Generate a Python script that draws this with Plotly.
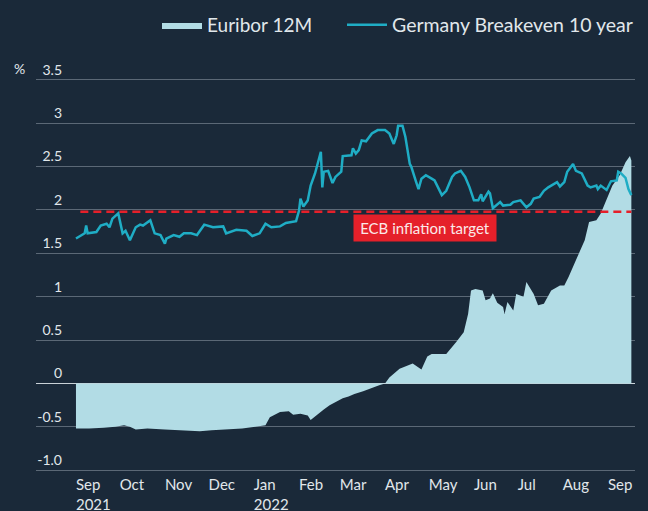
import plotly.graph_objects as go

# ---------------- data ----------------
be_dates = [
    "2021-09-01", "2021-09-07", "2021-09-08", "2021-09-09", "2021-09-15", "2021-09-18",
    "2021-09-22", "2021-09-24", "2021-09-26", "2021-09-30", "2021-10-03", "2021-10-05",
    "2021-10-08", "2021-10-12", "2021-10-15", "2021-10-17", "2021-10-22", "2021-10-25",
    "2021-10-29", "2021-11-01", "2021-11-02", "2021-11-07", "2021-11-11", "2021-11-14",
    "2021-11-19", "2021-11-23", "2021-11-28", "2021-12-04", "2021-12-11", "2021-12-13",
    "2021-12-20", "2021-12-27", "2021-12-31", "2022-01-05", "2022-01-09", "2022-01-13",
    "2022-01-19", "2022-01-23", "2022-01-30", "2022-02-01", "2022-02-02", "2022-02-04",
    "2022-02-07", "2022-02-09", "2022-02-12", "2022-02-16", "2022-02-17", "2022-02-18",
    "2022-02-21", "2022-02-24", "2022-02-26", "2022-03-02", "2022-03-03", "2022-03-09",
    "2022-03-10", "2022-03-12", "2022-03-14", "2022-03-15", "2022-03-16", "2022-03-19",
    "2022-03-23", "2022-03-27", "2022-04-01", "2022-04-04", "2022-04-07", "2022-04-09",
    "2022-04-10", "2022-04-13", "2022-04-15", "2022-04-18", "2022-04-19", "2022-04-22",
    "2022-04-24", "2022-04-26", "2022-04-29", "2022-05-03", "2022-05-05", "2022-05-10",
    "2022-05-13", "2022-05-17", "2022-05-19", "2022-05-23", "2022-05-26", "2022-05-29",
    "2022-06-01", "2022-06-04", "2022-06-06", "2022-06-07", "2022-06-11", "2022-06-12",
    "2022-06-14", "2022-06-19", "2022-06-21", "2022-06-26", "2022-06-28", "2022-07-03",
    "2022-07-07", "2022-07-10", "2022-07-12", "2022-07-16", "2022-07-19", "2022-07-22",
    "2022-07-25", "2022-07-28", "2022-07-30", "2022-08-02", "2022-08-04", "2022-08-08",
    "2022-08-10", "2022-08-14", "2022-08-18", "2022-08-20", "2022-08-24", "2022-08-25",
    "2022-08-27", "2022-08-31", "2022-09-03", "2022-09-07", "2022-09-08", "2022-09-10",
    "2022-09-13", "2022-09-15", "2022-09-17",
]
be_values = [
    1.67, 1.73, 1.82, 1.73, 1.745, 1.82,
    1.84, 1.80, 1.90, 1.96, 1.73, 1.76,
    1.65, 1.80, 1.83, 1.82, 1.88, 1.73,
    1.71, 1.61, 1.67, 1.71, 1.69, 1.73,
    1.73, 1.71, 1.83, 1.80, 1.81, 1.73,
    1.77, 1.76, 1.70, 1.73, 1.84, 1.80,
    1.81, 1.85, 1.87, 1.99, 2.13, 2.04,
    2.11, 2.28, 2.42, 2.67, 2.26, 2.44,
    2.45, 2.31, 2.38, 2.44, 2.62, 2.63,
    2.71, 2.65, 2.69, 2.74, 2.80, 2.79,
    2.88, 2.92, 2.92, 2.88, 2.76, 2.86,
    2.97, 2.97, 2.84, 2.53, 2.50, 2.34,
    2.24, 2.36, 2.40, 2.36, 2.34, 2.17,
    2.22, 2.38, 2.42, 2.45, 2.38, 2.26,
    2.11, 2.11, 2.18, 2.10, 2.21, 2.19,
    2.02, 2.09, 2.05, 2.06, 2.09, 2.11,
    2.03, 2.07, 2.13, 2.15, 2.22, 2.26,
    2.29, 2.32, 2.27, 2.32, 2.44, 2.53,
    2.45, 2.42, 2.28, 2.26, 2.28, 2.24,
    2.28, 2.23, 2.33, 2.34, 2.44, 2.42,
    2.37, 2.24, 2.17,
]

eu_dates = [
    "2021-09-01", "2021-09-10", "2021-09-20", "2021-09-28", "2021-10-04", "2021-10-08",
    "2021-10-12", "2021-10-20", "2021-11-01", "2021-11-12", "2021-11-25", "2021-12-03",
    "2021-12-14", "2021-12-24", "2022-01-02", "2022-01-09", "2022-01-12", "2022-01-16",
    "2022-01-19", "2022-01-25", "2022-01-28", "2022-02-02", "2022-02-07", "2022-02-09",
    "2022-02-14", "2022-02-18", "2022-02-22", "2022-02-28", "2022-03-03", "2022-03-07",
    "2022-03-11", "2022-03-17", "2022-03-23", "2022-03-28", "2022-04-01", "2022-04-04",
    "2022-04-11", "2022-04-20", "2022-04-26", "2022-04-30", "2022-05-03", "2022-05-13",
    "2022-05-20", "2022-05-25", "2022-05-28", "2022-05-30", "2022-06-02", "2022-06-07",
    "2022-06-09", "2022-06-12", "2022-06-14", "2022-06-17", "2022-06-21", "2022-06-22",
    "2022-06-24", "2022-06-28", "2022-06-30", "2022-07-05", "2022-07-07", "2022-07-12",
    "2022-07-15", "2022-07-19", "2022-07-24", "2022-07-30", "2022-08-02", "2022-08-05",
    "2022-08-11", "2022-08-16", "2022-08-19", "2022-08-24", "2022-08-27", "2022-08-31",
    "2022-09-04", "2022-09-09", "2022-09-13", "2022-09-16", "2022-09-17",
]
eu_values = [
    -0.52, -0.52, -0.51, -0.50, -0.48, -0.50,
    -0.53, -0.52, -0.53, -0.54, -0.55, -0.54,
    -0.53, -0.52, -0.50, -0.48, -0.39, -0.36,
    -0.33, -0.32, -0.36, -0.35, -0.37, -0.42,
    -0.35, -0.30, -0.25, -0.20, -0.17, -0.15,
    -0.12, -0.09, -0.05, -0.02, 0.0, 0.07,
    0.17, 0.23, 0.16, 0.31, 0.34, 0.34,
    0.48, 0.59, 0.80, 1.07, 1.09, 1.07,
    0.96, 0.98, 1.04, 0.93, 0.88, 0.80,
    0.94, 0.84, 1.03, 1.00, 1.17, 1.03,
    0.90, 0.92, 1.07, 1.13, 1.13, 1.23,
    1.46, 1.65, 1.86, 1.88, 1.96, 2.11,
    2.28, 2.40, 2.55, 2.62, 2.57,
]

ecb_target = 1.98
ecb_dates = ["2021-09-04", "2022-09-17"]

y_tickvals = [3.5, 3, 2.5, 2, 1.5, 1, 0.5, 0, -0.5, -1.0]
y_ticktext = ["3.5", "3", "2.5", "2", "1.5", "1", "0.5", "0", "-0.5", "-1.0"]

x_tickvals = ["2021-09-01", "2021-10-01", "2021-11-01", "2021-12-01", "2022-01-01",
              "2022-02-01", "2022-03-01", "2022-04-01", "2022-05-01", "2022-06-01",
              "2022-07-01", "2022-08-01", "2022-09-01"]
x_ticktext = ["Sep<br>2021", "Oct", "Nov", "Dec", "Jan<br>2022", "Feb", "Mar", "Apr",
              "May", "Jun", "Jul", "Aug", "Sep"]

# ---------------- style ----------------
BG = "#1a2939"
TXT = "#e1e7eb"
GRID = "#5b6876"
FILL = "#b2dce5"
LINE = "#1fadc5"
RED = "#e5202a"
FONT = "Lato"

fig = go.Figure()

fig.add_trace(go.Scatter(
    x=eu_dates, y=eu_values, name="Euribor 12M", mode="lines",
    fill="tozeroy", fillcolor=FILL, line=dict(width=0, color=FILL), legend="legend",
))
fig.add_trace(go.Scatter(
    x=ecb_dates, y=[ecb_target] * len(ecb_dates), mode="lines", showlegend=False,
    line=dict(color=RED, width=2.5, dash="8px,5px"), hoverinfo="skip",
))
fig.add_trace(go.Scatter(
    x=be_dates, y=be_values, name="Germany Breakeven 10 year", mode="lines",
    line=dict(color=LINE, width=2.5), legend="legend2",
))

fig.add_annotation(
    x="2022-03-10", y=ecb_target, xref="x", yref="y", xanchor="left", yanchor="top",
    yshift=-2, text="ECB inflation target", showarrow=False, width=134,
    font=dict(family=FONT, size=15, color="#fbe9e9"), bgcolor=RED, borderpad=4,
)
fig.add_annotation(
    x=-0.027, y=1.025, xref="paper", yref="paper", xanchor="center", yanchor="middle",
    text="%", showarrow=False, font=dict(family=FONT, size=14, color=TXT),
)

legend_common = dict(orientation="h", yref="container", y=0.951, yanchor="middle",
                     xref="container", xanchor="right",
                     font=dict(size=19, color=TXT), bgcolor="rgba(0,0,0,0)",
                     itemwidth=40)

fig.update_layout(
    width=648, height=511,
    margin=dict(l=36, r=13, t=77.6, b=39.3, autoexpand=False),
    paper_bgcolor=BG, plot_bgcolor=BG,
    font=dict(family=FONT, color=TXT, size=14),
    legend=dict(legend_common, x=318 / 648),
    legend2=dict(legend_common, x=638 / 648, font=dict(size=19.5, color=TXT)),
    xaxis=dict(
        type="date", range=["2021-08-04 14:00", "2022-09-19 12:00"],
        tickvals=x_tickvals, ticktext=x_ticktext, ticklabelposition="outside right",
        showgrid=False, zeroline=False, showline=False, ticks="", automargin=False,
        tickfont=dict(size=15, color=TXT), ticklabelstandoff=2,
    ),
    yaxis=dict(
        range=[-1.02, 3.52], tickvals=y_tickvals, ticktext=y_ticktext,
        showgrid=True, gridcolor=GRID, gridwidth=1,
        zeroline=True, zerolinecolor="#c9d1d7", zerolinewidth=1,
        showline=False, ticks="", ticklabelposition="outside", automargin=False,
        ticklabelstandoff=-27, ticklabelshift=-10,
        tickfont=dict(size=14, color=TXT),
    ),
)

fig.write_html(
    "out.html",
    config={"displayModeBar": False},
    post_script="document.body.style.margin='0';document.body.style.overflow='hidden';",
)
